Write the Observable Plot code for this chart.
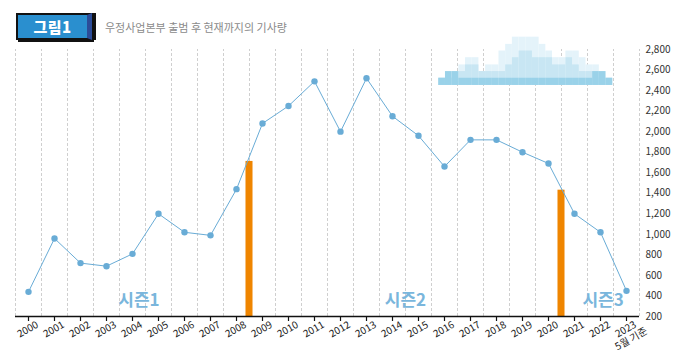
<!DOCTYPE html>
<html>
<head>
<meta charset="utf-8">
<script src="https://cdn.jsdelivr.net/npm/d3@7"></script>
<script src="https://cdn.jsdelivr.net/npm/@observablehq/plot@0.6"></script>
<style>
  body { margin: 0; background: #fff; font-family: "Noto Sans CJK KR", "Noto Sans", sans-serif; }
  #wrap { position: relative; width: 677px; height: 353px; overflow: hidden; }
  #badge { position: absolute; left: 16px; top: 13px; width: 69px; height: 23px;
    background: #2a8fcf; border: 2px solid #111; border-right: 5px solid #2c4c98;
    box-shadow: 2px 2px 0 #111, 4px 0 0 #111; color: #fff; font-weight: 900; font-size: 15px;
    line-height: 23px; text-align: center; letter-spacing: 0.5px; }
  #sub { position: absolute; left: 105px; top: 19px; font-size: 11px; color: #8a8a8a; }
  #chart { position: absolute; left: 0; top: 0; }
</style>
</head>
<body>
<div id="wrap">
  <div id="chart"></div>
  <div id="badge">그림1</div>
  <div id="sub">우정사업본부 출범 후 현재까지의 기사량</div>
</div>
<script>
// ---- data ----
const years = [2000, 2001, 2002, 2003, 2004, 2005, 2006, 2007, 2008, 2009, 2010, 2011,
               2012, 2013, 2014, 2015, 2016, 2017, 2018, 2019, 2020, 2021, 2022, 2023];
const counts = [440, 960, 720, 690, 810, 1200, 1020, 990, 1440, 2080, 2250, 2490,
                2000, 2520, 2150, 1960, 1660, 1920, 1920, 1800, 1690, 1200, 1020, 450];
const yearLabels = ["2000", "2001", "2002", "2003", "2004", "2005", "2006", "2007", "2008",
                    "2009", "2010", "2011", "2012", "2013", "2014", "2015", "2016", "2017",
                    "2018", "2019", "2020", "2021", "2022", "2023\n5월 기준"];
const yTicks = [200, 400, 600, 800, 1000, 1200, 1400, 1600, 1800, 2000, 2200, 2400, 2600, 2800];
const eventYears = [2008.5, 2020.5];
const eventValues = [1710, 1430];
const seasonNames = ["시즌1", "시즌2", "시즌3"];
const seasonX = [2004.25, 2014.5, 2022.1];
const seasonY = [360, 360, 360];
// decorative cloud (top right): level index per column for three layers
const cloudLevels = [2450, 2520, 2585, 2650, 2720, 2785, 2850, 2920];
const cloudSpan = [2015.78, 2022.47];
const cloudDark  = [1,2,2,1,1,1,1,1,1,1,1,1,1,1,1,1,1,1,1,1,1,1,1,2,2,1];
const cloudMid   = [1,1,1,2,3,3,2,2,2,2,3,4,5,5,4,4,4,3,3,4,3,2,2,1,1,1];
const cloudLight = [1,1,1,3,4,4,2,3,3,5,6,7,7,7,7,6,5,4,4,5,5,4,3,3,1,1];

// ---- derived tables ----
const series = years.map((y, i) => ({year: y, value: counts[i]}));
const events = eventYears.map((y, i) => ({x: y, value: eventValues[i]}));
const seasons = seasonNames.map((n, i) => ({name: n, x: seasonX[i], y: seasonY[i]}));
const ticksTable = years.map((y, i) => ({year: y, label: yearLabels[i]}));
const gridX = [years[0] - 0.5, ...years.map(y => y + 0.5)];
const nCol = cloudDark.length;
const colW = (cloudSpan[1] - cloudSpan[0]) / nCol;
function cloudRects(levels, layer) {
  return levels.map((lv, k) => ({
    x1: cloudSpan[0] + k * colW, x2: cloudSpan[0] + (k + 1) * colW,
    y1: cloudLevels[0], y2: cloudLevels[lv], layer
  }));
}
const cloud = [...cloudRects(cloudLight, "light"), ...cloudRects(cloudMid, "mid"), ...cloudRects(cloudDark, "dark")];
const cloudColor = {light: "#e4f3fa", mid: "#c8e6f3", dark: "#9ad2e9"};

const lineColor = "#69acd6";

const chart = Plot.plot({
  width: 677,
  height: 353,
  marginTop: 49,
  marginBottom: 37,
  marginLeft: 15,
  marginRight: 38,
  style: {fontFamily: "'Noto Sans CJK KR', 'Noto Sans', sans-serif", fontSize: "10px", color: "#333", overflow: "visible"},
  x: {domain: [years[0] - 0.5, years[years.length - 1] + 0.5], axis: null},
  y: {domain: [200, 2800], axis: null},
  marks: [
    Plot.ruleX(gridX, {y1: 200, y2: 2800, stroke: "#cfcfcf", strokeDasharray: "3,2", strokeWidth: 1}),
    Plot.rect(cloud, {x1: "x1", x2: "x2", y1: "y1", y2: "y2", fill: d => cloudColor[d.layer]}),
    Plot.rectY(events, {x1: d => d.x - 0.135, x2: d => d.x + 0.135, y1: 200, y2: "value", fill: "#ef8500"}),
    Plot.line(series, {x: "year", y: "value", stroke: lineColor, strokeWidth: 1}),
    Plot.dot(series, {x: "year", y: "value", r: 3.2, fill: lineColor}),
    Plot.text(seasons, {x: "x", y: "y", text: "name", fill: "#7ab6dc", fontSize: 17, fontWeight: "bold"}),
    Plot.axisY(yTicks, {anchor: "right", tickSize: 0, tickPadding: 6, textAnchor: "start", tickFormat: d3.format(","), fill: "#333", fontSize: 10}),
    Plot.axisX(years, {anchor: "bottom", tickSize: 5, tickFormat: () => "", stroke: "#111", strokeWidth: 1.2}),
    Plot.text(ticksTable, {x: "year", y: 200, text: "label", rotate: -30, textAnchor: "middle", lineAnchor: "top", dy: 9, dx: -3, fill: "#222", fontSize: 10, lineHeight: 1.1}),
    Plot.ruleY([200], {x1: years[0] - 0.5, x2: years[years.length - 1] + 0.5, stroke: "#111", strokeWidth: 1.5})
  ]
});
document.getElementById("chart").appendChild(chart);
</script>
</body>
</html>
